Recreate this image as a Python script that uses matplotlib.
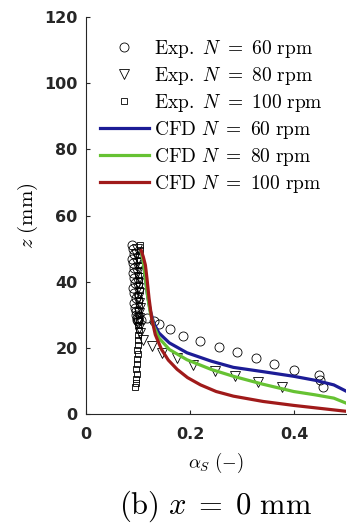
import numpy as np
import matplotlib.pyplot as plt

plt.rcParams['mathtext.fontset'] = 'cm'

# experimental points, N = 60 rpm (circles)
exp60_a = [0.088, 0.090, 0.092, 0.089, 0.091, 0.093, 0.090, 0.092, 0.094, 0.091,
           0.093, 0.095, 0.092, 0.094, 0.096, 0.095, 0.097, 0.098, 0.100, 0.106,
           0.118, 0.130, 0.141, 0.1615, 0.186, 0.219, 0.255, 0.290, 0.327, 0.362,
           0.400, 0.447, 0.450, 0.456]
exp60_z = [51.0, 50.0, 48.5, 47.0, 45.5, 44.0, 42.5, 41.0, 39.5, 38.0,
           36.5, 35.0, 33.5, 32.0, 31.0, 30.0, 29.0, 28.5, 28.0, 28.5,
           29.0, 28.0, 27.1, 25.6, 23.7, 22.0, 20.3, 18.7, 16.9, 15.1,
           13.4, 11.9, 10.4, 8.3]

# experimental points, N = 80 rpm (triangles)
exp80_a = [0.098, 0.096, 0.099, 0.097, 0.100, 0.098, 0.101, 0.099, 0.100, 0.102,
           0.100, 0.101, 0.103, 0.101, 0.102, 0.100, 0.101, 0.103, 0.110, 0.126,
           0.146, 0.174, 0.206, 0.247, 0.287, 0.331, 0.376]
exp80_z = [50.0, 48.5, 47.0, 45.5, 44.0, 42.5, 41.0, 39.5, 38.0, 36.5,
           35.0, 33.5, 32.0, 30.5, 29.0, 27.5, 26.0, 24.5, 22.5, 20.5,
           18.5, 17.0, 14.9, 12.9, 11.6, 9.8, 8.3]

# experimental points, N = 100 rpm (squares)
exp100_a = [0.104, 0.103, 0.102, 0.104, 0.101, 0.103, 0.100, 0.102, 0.101, 0.103,
            0.100, 0.102, 0.101, 0.100, 0.102, 0.101, 0.100, 0.101, 0.100, 0.099,
            0.100, 0.098, 0.099, 0.097, 0.098, 0.096, 0.097, 0.095, 0.096, 0.094]
exp100_z = [51.0, 49.5, 48.0, 46.5, 45.0, 43.5, 42.0, 40.5, 39.0, 37.5,
            36.0, 34.5, 33.0, 31.5, 30.0, 28.5, 27.0, 25.5, 24.0, 22.5,
            21.0, 19.5, 18.0, 16.5, 15.0, 13.5, 12.0, 10.5, 9.5, 8.3]

# CFD profiles
cfd60_a = [0.106, 0.110, 0.114, 0.118, 0.123, 0.130, 0.140, 0.160, 0.194, 0.240,
           0.283, 0.340, 0.399, 0.440, 0.476, 0.501]
cfd60_z = [49.0, 46.0, 41.0, 36.0, 31.5, 27.5, 24.5, 21.5, 18.5, 16.0,
           14.1, 12.8, 11.4, 10.2, 8.8, 6.8]
cfd80_a = [0.106, 0.110, 0.114, 0.118, 0.123, 0.130, 0.140, 0.160, 0.194, 0.240,
           0.283, 0.340, 0.399, 0.440, 0.476, 0.501]
cfd80_z = [49.0, 46.0, 41.0, 36.0, 31.0, 26.5, 23.0, 19.5, 16.4, 13.5,
           11.4, 9.0, 6.8, 5.8, 4.8, 3.2]
cfd100_a = [0.106, 0.110, 0.114, 0.117, 0.121, 0.126, 0.133, 0.145, 0.158, 0.175,
            0.195, 0.220, 0.250, 0.283, 0.340, 0.399, 0.450, 0.501]
cfd100_z = [49.4, 47.5, 45.0, 41.0, 35.0, 29.0, 24.0, 19.5, 16.3, 13.5,
            11.0, 8.8, 6.8, 5.4, 3.8, 2.6, 1.7, 0.8]

fig = plt.figure(figsize=(3.47, 5.25), dpi=100)
ax = fig.add_axes([0.248, 0.2114, 0.750, 0.7562])

mk = dict(linestyle='none', markerfacecolor='none', markeredgecolor='k',
          markeredgewidth=0.6, markersize=6.5)
ax.plot(exp60_a, exp60_z, marker='o',
        label=r'$\mathrm{Exp.}\ N\ =\ 60\ \mathrm{rpm}$', **mk)
ax.plot(exp80_a, exp80_z, marker='v',
        label=r'$\mathrm{Exp.}\ N\ =\ 80\ \mathrm{rpm}$', **mk)
ax.plot(exp100_a, exp100_z, marker='s',
        label=r'$\mathrm{Exp.}\ N\ =\ 100\ \mathrm{rpm}$', **dict(mk, markersize=5))
ax.plot(cfd60_a, cfd60_z, color='#1c1c96', lw=2.3,
        label=r'$\mathrm{CFD}\ N\ =\ 60\ \mathrm{rpm}$')
ax.plot(cfd80_a, cfd80_z, color='#66c233', lw=2.3,
        label=r'$\mathrm{CFD}\ N\ =\ 80\ \mathrm{rpm}$')
ax.plot(cfd100_a, cfd100_z, color='#a01a1a', lw=2.3,
        label=r'$\mathrm{CFD}\ N\ =\ 100\ \mathrm{rpm}$')

ax.set_xlim(0, 0.5)
ax.set_ylim(0, 120)
ax.set_xticks([0, 0.2, 0.4])
ax.set_xticklabels(['0', '0.2', '0.4'])
ax.set_yticks(np.arange(0, 121, 20))
for s in ['top', 'right']:
    ax.spines[s].set_visible(False)
for s in ['left', 'bottom']:
    ax.spines[s].set_color('#262626')
    ax.spines[s].set_linewidth(0.8)
ax.tick_params(direction='in', length=3, width=0.8, colors='#262626',
               labelsize=11.5)
ax.tick_params(axis='x', pad=9)
ax.tick_params(axis='y', pad=6)
for lab in ax.get_xticklabels() + ax.get_yticklabels():
    lab.set_fontweight('bold')

ax.set_xlabel(r'$\alpha_S\ \mathrm{(-)}$', fontsize=13.5, labelpad=7)
ax.set_ylabel(r'$z\ \mathrm{(mm)}$', fontsize=15, labelpad=3)

ax.legend(loc='upper left', bbox_to_anchor=(0.054, 0.948), frameon=False,
          fontsize=14, handlelength=2.5, handletextpad=0.28, labelspacing=0.26,
          borderaxespad=0, borderpad=0)

fig.text(0.622, 0.022, r'$\mathrm{(b)}\ x\;=\;0\ \mathrm{mm}$', fontsize=22, ha='center')

fig.savefig('out.png', dpi=100)
